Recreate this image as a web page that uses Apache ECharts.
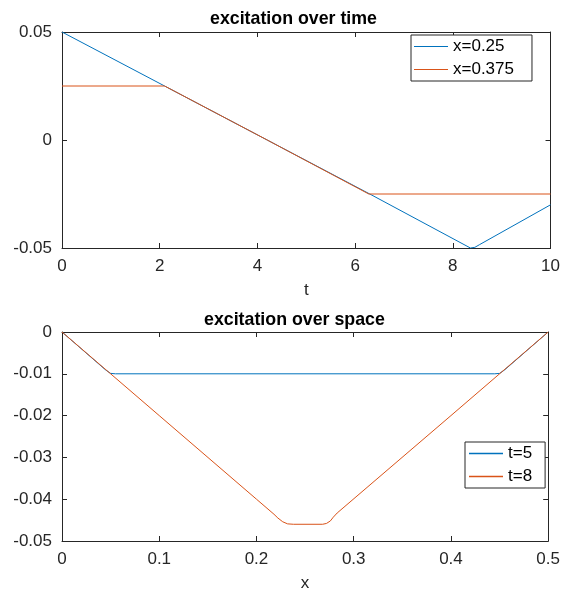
<!DOCTYPE html>
<html>
<head>
<meta charset="utf-8">
<script src="https://cdn.jsdelivr.net/npm/echarts@6/dist/echarts.min.js"></script>
<style>
html,body{margin:0;padding:0;background:#fff;}
#c{width:563px;height:593px;}
</style>
</head>
<body>
<div id="c"></div>
<script>
// ---- data ----
var timeTitle = 'excitation over time';
var spaceTitle = 'excitation over space';
var timeSeriesNames = ['x=0.25', 'x=0.375'];
var spaceSeriesNames = ['t=5', 't=8'];
// top panel: excitation vs t
var blueTime = [[0, 0.05], [2.1, 0.025], [4.2, 0.0], [6.3, -0.025], [8.36, -0.05], [8.45, -0.0497], [8.55, -0.0484], [10, -0.03]];
var orangeTime = [[0, 0.025], [2.1, 0.025], [4.2, 0.0], [6.28, -0.025], [10, -0.025]];
// bottom panel: excitation vs x
var blueSpace = [[0, 0], [0.045, -0.0091], [0.05, -0.0099], [0.055, -0.01], [0.445, -0.01], [0.45, -0.0099], [0.455, -0.0091], [0.5, 0]];
var orangeSpace = [[0, 0], [0.1, -0.02], [0.2, -0.04], [0.218, -0.0436], [0.222, -0.0445], [0.227, -0.0454], [0.232, -0.0459], [0.238, -0.046], [0.268, -0.046], [0.272, -0.0458], [0.276, -0.0452], [0.279, -0.0443], [0.283, -0.0433], [0.4, -0.02], [0.5, 0]];
var timeTicks = {min: 0, max: 10, interval: 2};
var timeYTicks = {min: -0.05, max: 0.05, interval: 0.05};
var spaceTicks = {min: 0, max: 0.5, interval: 0.1};
var spaceYTicks = {min: -0.05, max: 0, interval: 0.01};

var BLUE = '#0072BD', ORANGE = '#D95319', AX = '#262626';
var FONT = 'Liberation Sans, Arial, sans-serif';

function xAx(grid, t, name, pos) {
  var main = pos === 'bottom';
  return {
    type: 'value', gridIndex: grid, position: pos,
    min: t.min, max: t.max, interval: t.interval,
    name: main ? name : '', nameLocation: 'middle', nameGap: 34,
    nameTextStyle: {color: AX, fontSize: 17, fontFamily: FONT},
    axisLine: {show: true, onZero: false, lineStyle: {color: AX, width: 1}},
    axisTick: {show: true, inside: true, length: 5, lineStyle: {color: AX}},
    axisLabel: {show: main, color: AX, fontSize: 17, fontFamily: FONT, margin: 10,
      formatter: function (v) { return +v.toFixed(4) + ''; }},
    splitLine: {show: false}
  };
}
function yAx(grid, t, pos) {
  var main = pos === 'left';
  return {
    type: 'value', gridIndex: grid, position: pos,
    min: t.min, max: t.max, interval: t.interval,
    axisLine: {show: true, onZero: false, lineStyle: {color: AX, width: 1}},
    axisTick: {show: true, inside: true, length: 5, lineStyle: {color: AX}},
    axisLabel: {show: main, color: AX, fontSize: 17, fontFamily: FONT, margin: 10,
      formatter: function (v) { return +v.toFixed(4) + ''; }},
    splitLine: {show: false}
  };
}

var chart = echarts.init(document.getElementById('c'), null, {renderer: 'canvas'});
chart.setOption({
  animation: false,
  backgroundColor: '#fff',
  title: [
    {text: timeTitle, left: 205, top: 5,
      textStyle: {fontSize: 17.8, fontWeight: 'bold', color: '#000', fontFamily: FONT}},
    {text: spaceTitle, left: 199, top: 306,
      textStyle: {fontSize: 17.8, fontWeight: 'bold', color: '#000', fontFamily: FONT}}
  ],
  grid: [
    {left: 62, right: 11, top: 32, height: 216},
    {left: 62, right: 11, top: 332, height: 216}
  ],
  xAxis: [
    xAx(0, timeTicks, 't', 'bottom'), xAx(0, timeTicks, '', 'top'),
    xAx(1, spaceTicks, 'x', 'bottom'), xAx(1, spaceTicks, '', 'top')
  ],
  yAxis: [
    yAx(0, timeYTicks, 'left'), yAx(0, timeYTicks, 'right'),
    yAx(1, spaceYTicks, 'left'), yAx(1, spaceYTicks, 'right')
  ],
  legend: [
    {data: timeSeriesNames, orient: 'vertical', left: 411, top: 35,
      icon: 'rect', itemWidth: 34, itemHeight: 1, itemGap: 6,
      padding: [3, 18, 3, 3], borderColor: AX, borderWidth: 1, backgroundColor: '#fff',
      textStyle: {fontSize: 17, color: '#000', fontFamily: FONT}},
    {data: spaceSeriesNames, orient: 'vertical', left: 465, top: 442,
      icon: 'rect', itemWidth: 34, itemHeight: 1.5, itemGap: 6,
      padding: [3, 13, 3, 4], borderColor: AX, borderWidth: 1, backgroundColor: '#fff',
      textStyle: {fontSize: 17, color: '#000', fontFamily: FONT}}
  ],
  series: [
    {name: timeSeriesNames[0], type: 'line', xAxisIndex: 0, yAxisIndex: 0, data: blueTime,
      symbol: 'none', color: BLUE, lineStyle: {width: 1}},
    {name: timeSeriesNames[1], type: 'line', xAxisIndex: 0, yAxisIndex: 0, data: orangeTime,
      symbol: 'none', color: ORANGE, lineStyle: {width: 1}},
    {name: spaceSeriesNames[0], type: 'line', xAxisIndex: 2, yAxisIndex: 2, data: blueSpace,
      symbol: 'none', color: BLUE, lineStyle: {width: 1}},
    {name: spaceSeriesNames[1], type: 'line', xAxisIndex: 2, yAxisIndex: 2, data: orangeSpace,
      symbol: 'none', color: ORANGE, lineStyle: {width: 1}}
  ]
});
</script>
</body>
</html>
